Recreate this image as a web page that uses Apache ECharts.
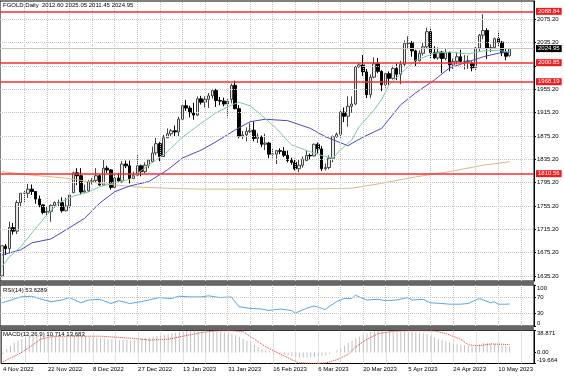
<!DOCTYPE html>
<html>
<head>
<meta charset="utf-8">
<script src="https://cdn.jsdelivr.net/npm/echarts@6/dist/echarts.min.js"></script>
<style>
html, body { margin: 0; padding: 0; background: #fff; }
#main { width: 564px; height: 376px; }
</style>
</head>
<body>
<div id="main"></div>
<script>
// FGOLD daily, 4 Nov 2022 - 15 May 2023 (two short Sunday bars in March)
var dates = [
  '4 Nov 2022','7 Nov 2022','8 Nov 2022','9 Nov 2022','10 Nov 2022','11 Nov 2022','14 Nov 2022','15 Nov 2022','16 Nov 2022','17 Nov 2022',
  '18 Nov 2022','21 Nov 2022','22 Nov 2022','23 Nov 2022','24 Nov 2022','25 Nov 2022','28 Nov 2022','29 Nov 2022','30 Nov 2022',
  '1 Dec 2022','2 Dec 2022','5 Dec 2022','6 Dec 2022','7 Dec 2022','8 Dec 2022','9 Dec 2022','12 Dec 2022','13 Dec 2022','14 Dec 2022',
  '15 Dec 2022','16 Dec 2022','19 Dec 2022','20 Dec 2022','21 Dec 2022','22 Dec 2022','23 Dec 2022','27 Dec 2022','28 Dec 2022','29 Dec 2022','30 Dec 2022',
  '3 Jan 2023','4 Jan 2023','5 Jan 2023','6 Jan 2023','9 Jan 2023','10 Jan 2023','11 Jan 2023','12 Jan 2023','13 Jan 2023','16 Jan 2023',
  '17 Jan 2023','18 Jan 2023','19 Jan 2023','20 Jan 2023','23 Jan 2023','24 Jan 2023','25 Jan 2023','26 Jan 2023','27 Jan 2023','30 Jan 2023','31 Jan 2023',
  '1 Feb 2023','2 Feb 2023','3 Feb 2023','6 Feb 2023','7 Feb 2023','8 Feb 2023','9 Feb 2023','10 Feb 2023','13 Feb 2023','14 Feb 2023',
  '15 Feb 2023','16 Feb 2023','17 Feb 2023','20 Feb 2023','21 Feb 2023','22 Feb 2023','23 Feb 2023','24 Feb 2023','27 Feb 2023','28 Feb 2023',
  '1 Mar 2023','2 Mar 2023','3 Mar 2023','6 Mar 2023','7 Mar 2023','8 Mar 2023','9 Mar 2023','10 Mar 2023','12 Mar 2023','13 Mar 2023',
  '14 Mar 2023','15 Mar 2023','16 Mar 2023','17 Mar 2023','19 Mar 2023','20 Mar 2023','21 Mar 2023','22 Mar 2023','23 Mar 2023','24 Mar 2023',
  '27 Mar 2023','28 Mar 2023','29 Mar 2023','30 Mar 2023','31 Mar 2023',
  '3 Apr 2023','4 Apr 2023','5 Apr 2023','6 Apr 2023','10 Apr 2023','11 Apr 2023','12 Apr 2023','13 Apr 2023','14 Apr 2023','17 Apr 2023',
  '18 Apr 2023','19 Apr 2023','20 Apr 2023','21 Apr 2023','24 Apr 2023','25 Apr 2023','26 Apr 2023','27 Apr 2023','28 Apr 2023',
  '1 May 2023','2 May 2023','3 May 2023','4 May 2023','5 May 2023','8 May 2023','9 May 2023','10 May 2023','11 May 2023','12 May 2023','15 May 2023'
];

var opens = [
  1635,1686,1682,1718,1712,1761,1777,1777,1784,1780,1767,1757,1744,1746,1756,1761,1761,1747,1755,
  1778,1812,1807,1779,1781,1797,1799,1807,1791,1820,1817,1787,1803,1798,1827,1824,1802,1808,1824,1814,1825,
  1831,1846,1862,1840,1872,1879,1884,1882,1904,1927,1923,1915,1911,1939,1933,1938,1944,1953,1936,1935,1930,
  1938,1962,1922,1875,1877,1883,1885,1871,1873,1861,1863,1844,1844,1850,1849,1842,1833,1830,1819,1825,
  1833,1842,1841,1861,1853,1819,1821,1837,1874,1878,1916,1909,1926,1930,1994,1997,1985,1946,1976,1999,1986,1963,1982,1974,1991,
  1981,1998,2034,2035,2021,2004,2017,2028,2054,2018,2009,2019,2008,2018,1997,2003,2011,2003,2003,
  2000,1992,2026,2048,2056,2025,2027,2042,2036,2018,2012.60
];
var highs = [
  1687,1690,1728,1726,1765,1777,1781,1793,1792,1780,1773,1758,1755,1758,1763,1766,1770,1769,1776,
  1814,1820,1820,1792,1800,1803,1820,1810,1834,1824,1818,1808,1812,1832,1833,1833,1814,1843,1826,1830,1836,
  1857,1872,1865,1877,1888,1887,1893,1908,1929,1937,1927,1932,1943,1944,1943,1949,1956,1956,1942,1941,1939,
  1965,1970,1928,1884,1890,1897,1900,1880,1876,1879,1865,1854,1851,1854,1856,1850,1838,1836,1834,1840,
  1851,1845,1862,1864,1858,1828,1842,1876,1881,1920,1924,1943,1943,1995,2001,2014,1990,1981,2010,2009,1988,1984,1986,1996,2000,
  2004,2039,2046,2038,2023,2022,2036,2061,2061,2029,2027,2021,2026,2020,2008,2018,2023,2014,2013,
  2003,2028,2050,2084,2060,2032,2044,2054,2038,2024,2025.05
];
var lows = [
  1634,1671,1674,1706,1707,1753,1762,1769,1774,1759,1753,1741,1739,1728,1752,1753,1744,1746,1750,
  1777,1791,1775,1778,1779,1792,1796,1790,1790,1812,1783,1785,1795,1795,1820,1794,1802,1807,1806,1811,1820,
  1829,1842,1832,1839,1872,1874,1874,1875,1902,1918,1907,1903,1909,1929,1924,1923,1939,1925,1928,1926,1907,
  1931,1921,1871,1870,1866,1880,1866,1863,1856,1851,1837,1838,1827,1844,1839,1830,1826,1816,1813,1821,
  1833,1835,1840,1845,1815,1816,1818,1830,1872,1872,1899,1891,1915,1928,1992,1978,1940,1940,1974,1983,1952,1958,1963,1972,1971,
  1964,1993,2024,2011,1995,2003,2013,2025,2007,2007,2006,1983,2005,1986,1990,1998,2001,1989,1990,
  1986,1987,2020,2041,2007,2019,2024,2028,2012,2005,2011.45
];
var closes = [
  1687,1682,1718,1712,1761,1777,1777,1784,1780,1767,1757,1744,1746,1756,1761,1761,1747,1755,1774,
  1812,1807,1779,1781,1797,1799,1807,1791,1820,1817,1787,1803,1798,1827,1824,1802,1808,1824,1814,1825,1834,
  1846,1862,1840,1872,1879,1884,1882,1904,1927,1923,1915,1911,1939,1933,1938,1944,1953,1936,1935,1930,1935,
  1962,1922,1875,1877,1883,1885,1871,1875,1861,1863,1844,1844,1850,1849,1842,1833,1830,1819,1825,1835,
  1842,1841,1861,1853,1819,1821,1837,1874,1878,1916,1909,1926,1930,1994,1997,1985,1946,1976,1999,1986,1963,1982,1974,1991,1981,
  1998,2034,2035,2021,2004,2017,2028,2054,2018,2009,2019,2008,2018,1997,2003,2011,2003,2003,2004,
  1992,2026,2048,2056,2025,2027,2042,2036,2018,2012,2024.95
];

// moving averages: [bar index, price]
var maSlow = [[0,1814],[8,1808],[17,1803],[26,1794],[35,1788],[44,1785.5],[53,1784],[62,1784],[79,1784],[93,1785.5],
  [101,1794],[110,1805],[119,1814],[128,1825],[135,1831]];
var maMid = [[0,1671],[5,1680],[8,1692],[13,1698.5],[17,1714],[22,1734],[26,1760],[30,1779.6],[34,1789.4],[39,1796.8],
  [44,1816.8],[48,1837.4],[53,1851],[57,1865.4],[62,1885.4],[66,1899.6],[70,1903.8],[76,1901.4],[82,1888.3],[86,1874],
  [92,1858.5],[96,1873],[101,1888.3],[106,1928.3],[110,1949],[115,1971],[119,1991.7],[124,2002.5],[128,2011],[132,2017],[135,2019.7]];
var maFast = [[0,1651],[2,1668],[5,1685],[8,1709],[12,1740],[15,1760],[19,1772],[23,1779],[26,1788],[30,1795],
  [34,1801],[39,1825],[44,1848],[48,1873],[53,1897],[57,1915],[61,1928],[63,1933],[66,1927],[69,1911],
  [73,1888],[77,1860],[82,1848],[86,1840],[88,1837],[90,1851],[93,1868],[95,1891],[99,1920],[101,1938],
  [103,1963],[107,1988],[110,2005],[115,2017],[119,2019],[124,2016],[128,2021],[132,2022],[135,2019]];

var rsi = [[0,56.6],[1,59.2],[5,71],[8,72.7],[10,66.8],[13,59.2],[16,63.4],[18,69.3],[21,56.6],[23,63.4],
  [26,65.1],[29,54.9],[31,61.7],[34,54.9],[37,59.2],[39,63.4],[42,69.3],[45,66.8],[47,72.7],[50,71],
  [53,71],[55,73.6],[58,69.3],[61,71],[63,47.3],[66,43.1],[69,41.4],[71,38],[74,41.4],[77,38],
  [78,31.2],[79,35.4],[81,43.1],[83,49],[85,43.1],[86,39.7],[87,47.3],[89,59.2],[91,66.8],[93,66.8],
  [94,75.3],[95,71],[97,63.4],[100,65.1],[102,61.7],[105,63.4],[108,69.3],[109,63.4],[112,65.1],[114,56.6],
  [117,54.9],[119,53.2],[122,53.2],[124,54.9],[126,63.4],[127,66.8],[128,63.4],[130,56.6],[131,59.2],[132,53.2],
  [134,53.2],[135,53.6289]];

var macdMain = [
  -3,6,12,17,21,24,27,29.5,30,30,30,29.5,29,28.5,28,27,27.5,28,29,
  30,30,29.5,28.5,27,26.5,25.5,25,24.5,23.5,23,22.5,22,22,22,22,22.5,24,25,26,27,
  28,29,30,31.5,32.5,33.5,35,36.5,37.5,38.2,38.6,38.871,38.7,38.5,38.3,38,37.8,37.3,36.8,35.5,34,
  33,31,27.5,24,20.5,17,13.5,9.5,6,4,2.5,1,-0.5,-2,-3.5,-5,-6.5,-7.5,-8.5,-9,
  -9,-8.5,-8,-7,-6,-5,-3,0,3.5,7.5,12,16.5,20.5,25,28,31,34,36.5,38,38.5,38,37,36.5,36.5,36.5,
  36.5,37,37,36.5,36,35.5,34.5,32.5,30,27,24,22,20,18,16,14.5,13.5,12.5,11.5,
  11,12,14.5,17,16.5,16,15,14,12.5,11.5,10.714
];
var macdSignal = [[0,-16.6],[2,-10],[5,0],[8,13.4],[10,23.4],[13,28],[17,28.7],[22,28.7],[26,28.7],[31,26.7],
  [35,24.7],[39,22],[44,23.4],[48,28.7],[53,35.4],[57,38.3],[61,38.5],[64,36.7],[67,23.4],[70,10],
  [74,-3.3],[77,-13],[79,-18.6],[83,-19.664],[86,-18.6],[89,-13],[92,-3.3],[94,10],[97,23.4],[100,33.4],
  [104,37.5],[108,38.5],[111,38.5],[115,38],[118,33.4],[122,23.4],[124,13.4],[127,12],[130,15],[133,14.5],[135,13.683]];

var priceTicks = [1635.2,1675.2,1715.2,1755.2,1795.2,1835.2,1875.2,1915.2,1955.2,1995.2,2035.2,2075.2];
var levelLines = [2088.84, 2000.85, 1968.19, 1810.56];
var lastPrice = 2024.95;

var FONT = 'Liberation Sans';
var slots = dates.concat(['', '', '', '', '', '']); // empty space right of the last bar
var candles = dates.map(function (d, i) { return [opens[i], closes[i], lows[i], highs[i]]; });

var gridStyle = { type: 'dotted', color: '#c6c6c6', width: 1 };
var vGrid = [];
for (var i = 6; i < slots.length; i += 6) vGrid.push({ xAxis: i });

function hLines(vals) {
  return vals.map(function (v) { return { yAxis: v }; });
}
function gridSeries(idx, extra) {
  return {
    type: 'line', xAxisIndex: idx, yAxisIndex: idx, data: [], silent: true, z: 1,
    markLine: { symbol: ['none', 'none'], silent: true, animation: false, label: { show: false },
      lineStyle: gridStyle, data: vGrid.concat(extra) }
  };
}
function priceLine(values, lineColor, lineWidth, boxColor, z) {
  return {
    type: 'line', xAxisIndex: 0, yAxisIndex: 0, data: [], silent: true, z: z,
    markLine: {
      symbol: ['none', 'none'], silent: true, animation: false,
      lineStyle: { color: lineColor, width: lineWidth, type: 'solid', opacity: 1 },
      label: { show: true, position: 'end', distance: 2, color: '#fff', backgroundColor: boxColor,
        padding: [1, 2, 0, 2], fontSize: 6, fontFamily: FONT,
        formatter: function (p) { return Number(p.value).toFixed(2); } },
      data: values.map(function (v) { return { yAxis: v }; })
    }
  };
}

var labelStyle = { fontSize: 6, color: '#000', margin: 3, fontFamily: FONT };
var titleStyle = { fontSize: 6, fontWeight: 'normal', color: '#000', fontFamily: FONT };

var myChart = echarts.init(document.getElementById('main'));
var option = {
  animation: false,
  backgroundColor: '#fff',
  textStyle: { fontFamily: FONT },
  title: [
    { text: 'FGOLD,Daily  2012.60 2025.05 2011.45 2024.95', left: 3, top: 2, padding: 0, textStyle: titleStyle },
    { text: 'RSI(14) 53.6289', left: 3, top: 287, padding: 0, textStyle: titleStyle },
    { text: 'MACD(12,26,9) 10.714 13.683', left: 3, top: 331, padding: 0, textStyle: titleStyle }
  ],
  grid: [
    { left: 0, top: 1, width: 534, height: 280, show: true, borderColor: '#000', borderWidth: 1 },
    { left: 0, top: 285, width: 534, height: 41, show: true, borderColor: '#000', borderWidth: 1 },
    { left: 0, top: 330.5, width: 534, height: 33, show: true, borderColor: '#000', borderWidth: 1 }
  ],
  graphic: [
    { type: 'rect', shape: { x: 0, y: 281, width: 534, height: 4 }, style: { fill: '#666' }, z: 100 },
    { type: 'rect', shape: { x: 0, y: 326, width: 534, height: 4.5 }, style: { fill: '#666' }, z: 100 }
  ],
  xAxis: [0, 1, 2].map(function (g) {
    return {
      gridIndex: g, type: 'category', data: slots, boundaryGap: true,
      axisLine: { show: false }, axisTick: { show: false }, splitLine: { show: false },
      axisLabel: g === 2
        ? { show: true, interval: 11, align: 'left', fontSize: 6, color: '#000', margin: 3, fontFamily: FONT }
        : { show: false }
    };
  }),
  yAxis: [
    {
      gridIndex: 0, type: 'value', position: 'right', min: 1626.5, max: 2106.6,
      axisLine: { show: true, lineStyle: { color: '#000' } },
      axisTick: { show: true, length: 2, customValues: priceTicks, lineStyle: { color: '#000' } },
      axisLabel: Object.assign({
        customValues: priceTicks.filter(function (p) { return p !== 1995.2; }),
        formatter: function (v) { return v.toFixed(2); }
      }, labelStyle),
      splitLine: { show: false }
    },
    {
      gridIndex: 1, type: 'value', position: 'right', min: 0, max: 100,
      axisLine: { show: true, lineStyle: { color: '#000' } },
      axisTick: { show: true, length: 2, customValues: [0, 30, 70, 100], lineStyle: { color: '#000' } },
      axisLabel: Object.assign({ customValues: [0, 30, 70, 100],
        verticalAlignMaxLabel: 'top', verticalAlignMinLabel: 'bottom' }, labelStyle),
      splitLine: { show: false }
    },
    {
      gridIndex: 2, type: 'value', position: 'right', min: -19.664, max: 38.871,
      axisLine: { show: true, lineStyle: { color: '#000' } },
      axisTick: { show: true, length: 2, customValues: [-19.664, 0, 38.871], lineStyle: { color: '#000' } },
      axisLabel: Object.assign({ customValues: [-19.664, 0, 38.871],
        verticalAlignMaxLabel: 'top', verticalAlignMinLabel: 'bottom',
        formatter: function (v) { return v === 0 ? '0.00' : String(v); } }, labelStyle),
      splitLine: { show: false }
    }
  ],
  series: [
    gridSeries(0, hLines(priceTicks)),
    priceLine([lastPrice], '#c4c4c4', 1, '#000', 1),
    {
      name: 'FGOLD', type: 'candlestick', xAxisIndex: 0, yAxisIndex: 0, data: candles, barWidth: 3, z: 2,
      itemStyle: { color: '#e8e8e8', color0: '#000', borderColor: '#444', borderColor0: '#000', borderWidth: 1 }
    },
    { type: 'line', xAxisIndex: 0, yAxisIndex: 0, data: maSlow, showSymbol: false, z: 3, lineStyle: { color: '#deb887', width: 1 } },
    { type: 'line', xAxisIndex: 0, yAxisIndex: 0, data: maMid, showSymbol: false, z: 3, lineStyle: { color: '#4848c8', width: 1 } },
    { type: 'line', xAxisIndex: 0, yAxisIndex: 0, data: maFast, showSymbol: false, z: 3, lineStyle: { color: '#7cc8a0', width: 1 } },
    priceLine(levelLines, '#ff2a2a', 1.5, '#f01c1c', 4),

    gridSeries(1, hLines([30, 70])),
    { type: 'line', xAxisIndex: 1, yAxisIndex: 1, data: rsi, showSymbol: false, z: 3, lineStyle: { color: '#5aa5e8', width: 1 } },

    gridSeries(2, []),
    { type: 'bar', xAxisIndex: 2, yAxisIndex: 2, data: macdMain, barWidth: 1, z: 2, itemStyle: { color: '#c0c0c0' } },
    { type: 'line', xAxisIndex: 2, yAxisIndex: 2, data: macdSignal, showSymbol: false, z: 3,
      lineStyle: { color: '#e83030', width: 1, type: 'dotted' } }
  ]
};
myChart.setOption(option);
</script>
</body>
</html>
